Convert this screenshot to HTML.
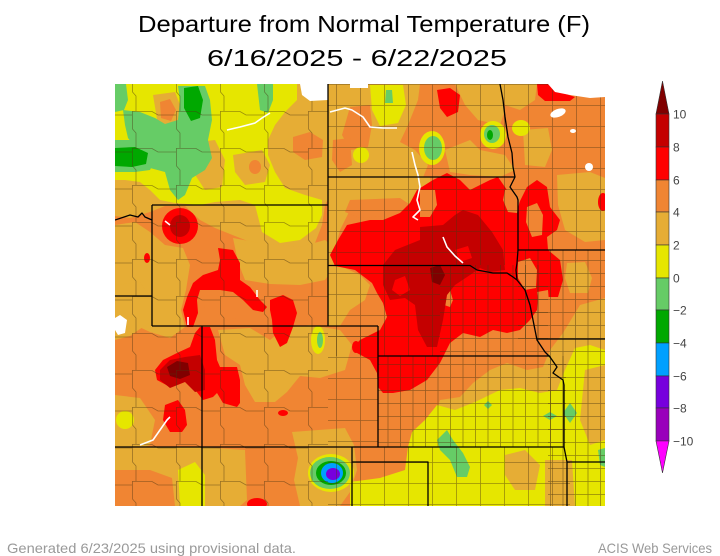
<!DOCTYPE html>
<html><head><meta charset="utf-8"><style>
html,body{margin:0;padding:0;background:#fff;}
svg{display:block;}
</style></head><body>
<svg width="720" height="556" viewBox="0 0 720 556" xmlns="http://www.w3.org/2000/svg">
<defs>
<clipPath id="mc"><rect x="115" y="84" width="490" height="422"/></clipPath>
<pattern id="p1" width="12.5" height="13" patternUnits="userSpaceOnUse"><path d="M0 0.5H12.5M0.5 0V13" stroke="#4a3410" stroke-opacity="0.55" stroke-width="0.8" fill="none"/></pattern>
<pattern id="p2" width="24" height="21" patternUnits="userSpaceOnUse"><path d="M0 0.5H24M0.5 0V21" stroke="#4a3410" stroke-opacity="0.5" stroke-width="0.8" fill="none"/></pattern>
<pattern id="p3" width="44" height="37" patternUnits="userSpaceOnUse"><path d="M0 0.5H20L26 4H44M0.5 0V18L4 22V37" stroke="#4a3410" stroke-opacity="0.5" stroke-width="0.8" fill="none"/></pattern>
</defs>

<!-- Title -->
<text x="364" y="32" font-family="DejaVu Sans ExtraLight, Liberation Sans, sans-serif" font-size="23" text-anchor="middle" textLength="452" lengthAdjust="spacingAndGlyphs" fill="#000">Departure from Normal Temperature (F)</text>
<text x="357" y="66" font-family="DejaVu Sans ExtraLight, Liberation Sans, sans-serif" font-size="23" text-anchor="middle" textLength="300" lengthAdjust="spacingAndGlyphs" fill="#000">6/16/2025 - 6/22/2025</text>

<g clip-path="url(#mc)">
<rect x="115" y="84" width="490" height="422" fill="#f08533"/>

<!-- gold (<4) -->
<g fill="#e6ad35">
<polygon points="115,84 420,84 418,100 408,125 400,142 415,150 428,165 420,185 405,205 380,208 352,210 340,200 332,192 325,205 322,225 315,243 295,250 270,247 250,242 235,236 215,228 200,220 185,206 165,206 150,212 130,218 115,216"/>
<polygon points="455,84 500,84 505,110 500,125 478,120 465,105"/>
<polygon points="445,150 470,140 480,150 505,155 515,170 500,177 470,175 450,172"/>
<polygon points="115,225 135,222 150,232 165,245 183,248 190,265 186,290 181,310 185,327 170,338 150,332 135,325 115,318"/>
<polygon points="233,238 260,243 300,247 325,240 335,248 338,262 325,280 300,285 270,284 245,280 238,262"/>
<polygon points="218,330 250,328 270,340 285,328 310,325 340,330 352,345 345,370 320,378 300,376 287,392 275,402 255,402 245,385 240,365 225,355"/>
<polygon points="115,285 140,282 152,300 150,322 130,336 115,340"/>
<polygon points="115,395 140,398 155,420 150,445 130,452 115,452"/>
<polygon points="115,447 200,447 245,450 247,500 240,506 175,506 172,478 150,470 115,470"/>
<polygon points="292,432 345,428 354,445 357,470 350,492 340,506 300,506 294,480 298,458"/>
<polygon points="350,480 390,486 410,470 412,447 413,430 433,423 440,400 460,397 473,383 490,370 507,363 527,370 543,367 550,350 563,333 580,305 605,298 605,506 350,506"/>
<polygon points="523,130 548,128 552,150 545,167 525,165"/>
<polygon points="557,175 590,172 605,178 605,240 585,242 565,230 558,205"/>
<polygon points="500,84 537,84 535,100 520,110 505,105"/>
<polygon points="567,263 585,262 592,278 588,293 570,293 565,278"/>
<polygon points="328,177 430,177 432,195 420,205 405,208 380,208 350,210 340,230 335,250 328,260"/>
<polygon points="328,265 345,268 360,275 370,285 365,300 350,310 340,326 328,326"/>
</g>

<!-- orange patches -->
<g fill="#f08533">
<polygon points="350,107 370,105 372,125 368,147 350,150 342,135"/>
<polygon points="293,137 310,132 323,140 322,157 305,160 293,152"/>
<polygon points="333,140 350,138 352,165 340,172 332,160"/>
<polygon points="350,200 400,198 415,208 400,215 360,218 345,212"/>
</g>

<!-- yellow (<2) -->
<g fill="#e6e600">
<polygon points="115,84 297,84 297,100 285,112 275,125 268,140 268,155 275,172 285,188 305,195 322,200 322,215 316,228 300,240 280,243 262,232 255,205 240,200 215,202 200,205 175,203 160,200 150,190 140,182 125,180 115,180"/>
<polygon points="370,85 403,85 406,105 398,123 380,126 372,110"/>
<ellipse cx="432" cy="148" rx="13" ry="17"/>
<ellipse cx="493" cy="135" rx="13" ry="14"/>
<ellipse cx="521" cy="128" rx="9" ry="8"/>
<ellipse cx="361" cy="155" rx="8" ry="8"/>
<ellipse cx="318" cy="340" rx="7" ry="14"/>
<ellipse cx="125" cy="420" rx="9" ry="9"/>
<polygon points="350,482 380,478 405,470 408,447 412,432 425,420 437,405 455,410 475,402 500,390 520,388 540,393 557,390 565,370 575,348 590,345 605,350 605,506 350,506"/>
<polygon points="178,470 195,462 205,475 205,506 180,506"/>
<ellipse cx="331" cy="473" rx="23" ry="19"/>
</g>

<!-- gold patches over yellow -->
<g fill="#e6ad35">
<polygon points="190,143 215,140 225,160 222,187 205,190 192,170"/>
<polygon points="233,155 262,150 270,165 265,182 245,185 235,172"/>
<polygon points="153,95 175,92 182,110 176,128 158,125"/>
<polygon points="505,455 525,450 540,465 535,490 515,490 505,475"/>
<polygon points="585,370 605,365 605,440 590,445 580,420"/>
<polygon points="545,460 572,460 575,506 545,506"/>
</g>
<g fill="#f08533">
<polygon points="160,102 170,99 176,110 171,121 161,118"/>
<ellipse cx="255" cy="167" rx="6" ry="7"/>
</g>

<!-- light green -->
<g fill="#66cc66">
<polygon points="115,84 126,84 128,100 124,110 115,112"/>
<polygon points="123,110 140,112 155,118 165,124 178,120 180,100 178,86 205,86 210,100 212,120 208,140 212,158 205,170 192,178 185,195 178,200 170,190 165,172 150,168 145,152 135,147 128,138 125,125"/>
<polygon points="115,140 135,140 150,147 155,160 150,170 135,172 115,172"/>
<polygon points="257,84 273,84 273,100 268,113 260,110"/>
<polygon points="386,90 392,90 393,103 385,103"/>
<ellipse cx="433" cy="148" rx="9" ry="12"/>
<ellipse cx="492" cy="134" rx="8" ry="9"/>
<ellipse cx="320" cy="340" rx="3" ry="8"/>
<polygon points="437,440 447,430 453,440 463,453 470,467 467,477 457,477 450,460 440,450"/>
<polygon points="484,405 488,401 492,405 488,409"/>
<polygon points="543,416 550,412 557,416 550,420"/>
<polygon points="570,403 577,413 570,423 563,413"/>
<polygon points="598,450 605,448 605,467 600,465"/>
<ellipse cx="330" cy="473" rx="20" ry="16"/>
</g>
<g fill="#00a800">
<polygon points="115,148 135,147 148,153 146,164 132,167 115,166"/>
<polygon points="184,88 198,86 203,100 200,118 191,121 184,108"/>
<ellipse cx="490" cy="135" rx="3" ry="5"/>
<ellipse cx="331" cy="473" rx="15" ry="12"/>
</g>
<ellipse cx="332" cy="473" rx="11" ry="10" fill="#00a0ff"/>
<ellipse cx="333" cy="474" rx="7" ry="6" fill="#7700dd"/>

<!-- red (>6) -->
<g fill="#ff0000">
<polygon points="347,225 370,220 383,220 400,213 410,203 417,190 433,180 447,173 460,180 470,190 490,180 498,177 507,190 510,203 517,207 527,187 537,180 547,187 550,207 560,220 557,230 547,237 548,250 560,260 563,280 558,297 538,297 537,310 530,320 520,330 507,333 493,330 480,337 463,333 450,343 440,363 427,380 410,390 393,393 383,393 378,387 377,373 370,360 357,353 353,347 360,340 380,330 387,317 383,303 377,293 372,283 355,270 335,266 330,255 338,240"/>
<ellipse cx="180" cy="226" rx="18" ry="18"/>
<polygon points="218,248 233,250 240,263 240,280 250,287 260,300 267,307 263,312 253,310 243,300 233,292 220,290 200,290 197,300 198,313 193,327 187,327 183,310 187,297 193,283 203,275 218,270 220,260"/>
<polygon points="270,300 283,295 293,300 297,313 293,327 287,343 280,347 273,333 272,320 270,310"/>
<polygon points="200,327 210,327 215,340 217,360 220,367 237,367 240,380 240,403 237,407 223,403 217,393 213,397 203,400 193,387 183,380 170,387 157,380 155,370 163,360 177,353 190,347 195,333"/>
<polygon points="165,405 178,400 185,410 187,425 182,432 170,432 163,420"/>
<ellipse cx="283" cy="413" rx="5" ry="3"/>
<ellipse cx="257" cy="504" rx="10" ry="6"/>
<ellipse cx="147" cy="258" rx="3" ry="5"/>
<ellipse cx="603" cy="202" rx="5" ry="9"/>
<polygon points="437,90 450,88 460,95 458,112 447,117 440,108"/>
<polygon points="537,84 548,84 560,92 575,97 570,101 545,101 538,95"/>
<ellipse cx="356" cy="347" rx="4" ry="6"/>
</g>
<!-- orange patches in red -->
<g fill="#f08533">
<polygon points="505,190 515,188 520,200 517,213 508,212 503,200"/>
<polygon points="527,207 537,203 543,215 542,235 532,237 526,222"/>
<polygon points="518,262 530,258 537,270 536,288 525,290 518,278"/>
<polygon points="443,292 450,290 453,300 450,307 444,305"/>
<polygon points="420,190 435,190 437,205 430,217 420,217"/>
<polygon points="537,292 548,290 550,313 540,313"/>
<polygon points="205,300 235,297 245,306 237,318 215,322 204,312"/>
</g>
<!-- dark red (>8) -->
<g fill="#c40000">
<polygon points="383,265 395,250 420,240 420,227 443,225 455,215 463,210 478,215 492,232 503,250 505,270 490,272 480,268 470,275 455,285 447,295 443,320 437,347 427,347 418,330 415,305 405,298 390,300 383,285"/>
<ellipse cx="180" cy="226" rx="10" ry="11"/>
<polygon points="160,370 170,360 185,357 200,355 205,370 205,390 195,392 185,382 170,388 160,380"/>
</g>
<!-- red breaks inside dark red -->
<g fill="#ff0000">
<polygon points="487,214 500,222 506,238 498,240 490,228"/>
<polygon points="395,280 405,276 410,290 400,296 392,290"/>
<polygon points="455,250 468,246 472,258 460,262"/>
</g>
<g fill="#800000">
<polygon points="430,268 440,265 445,275 440,285 432,282"/>
<polygon points="167,367 177,361 188,363 190,375 180,379 170,376"/>
</g>

<!-- county line textures -->
<rect x="115" y="84" width="213" height="422" fill="url(#p3)"/>
<rect x="328" y="84" width="190" height="181" fill="url(#p2)"/>
<rect x="518" y="84" width="87" height="166" fill="url(#p2)"/>
<rect x="328" y="265" width="112" height="91" fill="url(#p2)"/>
<rect x="328" y="326" width="50" height="180" fill="url(#p2)"/>
<rect x="378" y="447" width="192" height="59" fill="url(#p2)"/>
<rect x="440" y="265" width="108" height="91" fill="url(#p1)"/>
<rect x="378" y="356" width="188" height="91" fill="url(#p1)"/>
<rect x="518" y="250" width="87" height="89" fill="url(#p1)"/>
<rect x="548" y="339" width="57" height="167" fill="url(#p1)"/>

<!-- white (no data / lakes) -->
<g fill="#fff">
<polygon points="300,84 328,84 328,100 310,101 302,95"/>
<rect x="350" y="84" width="18" height="4"/>
<polygon points="548,84 605,84 605,97 590,98 570,95 555,92"/>
<ellipse cx="558" cy="113" rx="8" ry="4" transform="rotate(-20 558 113)"/>
<ellipse cx="573" cy="131" rx="3" ry="2"/>
<ellipse cx="589" cy="167" rx="4" ry="4"/>
<polygon points="115,318 120,315 127,320 125,333 118,335 115,330"/>
</g>
<g fill="none" stroke="#fff" stroke-width="1.6" stroke-linejoin="round">
<polyline points="227,130 240,127 255,123 262,118 270,113"/>
<polyline points="330,112 345,108 352,110 363,117 370,127 383,128 397,128"/>
<polyline points="412,152 415,165 418,175 420,187 417,200 420,210 413,217 418,220"/>
<polyline points="443,237 447,247 455,256 463,263"/>
<polyline points="140,445 153,440 160,430 167,420 170,417"/>
<polyline points="165,221 170,225"/>
<polyline points="188,317 188,325"/>
<polyline points="257,290 257,297"/>
</g>

<!-- state borders -->
<g fill="none" stroke="#000" stroke-width="1.3" stroke-linejoin="round">
<path d="M328,84 V326"/>
<path d="M152,205 H328"/>
<path d="M152,205 V326"/>
<path d="M152,220 L145,217 L142,213 L138,217 L130,215 L115,220"/>
<path d="M115,296 H152"/>
<path d="M152,326 H378"/>
<path d="M202,326 V506"/>
<path d="M115,447 H564"/>
<path d="M378,326 V447"/>
<path d="M378,356 H550"/>
<path d="M328,177 H515"/>
<path d="M328,265.5 H470 L477,270 L493,273 L507,273 L513,277 L517,280"/>
<path d="M500,84 L503,100 L505,117 L508,137 L512,153 L513,167 L515,177 L510,187 L517,197 L518,200 L518,250 L517,263 L516,270 L517,280 L525,290 L530,305 L533,320 L537,340 L545,352 L550,357 L557,367 L553,373 L563,380 L564,385 V447"/>
<path d="M518,250 H605"/>
<path d="M537,339 H605"/>
<path d="M352,447 V506"/>
<path d="M352,462 H428 V506"/>
<path d="M564,447 L567,462 V506"/>
<path d="M567,462 H605"/>
</g>
</g>

<!-- colorbar -->
<g stroke="#333" stroke-width="0.6">
<polygon points="662.5,81 669,114 656,114" fill="#800000"/>
<rect x="656" y="114" width="13" height="33" fill="#c40000"/>
<rect x="656" y="147" width="13" height="33" fill="#ff0000"/>
<rect x="656" y="180" width="13" height="32" fill="#f08533"/>
<rect x="656" y="212" width="13" height="33" fill="#e6ad35"/>
<rect x="656" y="245" width="13" height="33" fill="#e6e600"/>
<rect x="656" y="278" width="13" height="32" fill="#66cc66"/>
<rect x="656" y="310" width="13" height="33" fill="#00a800"/>
<rect x="656" y="343" width="13" height="33" fill="#00a0ff"/>
<rect x="656" y="376" width="13" height="32" fill="#7700dd"/>
<rect x="656" y="408" width="13" height="33" fill="#9900bb"/>
<polygon points="656,441 669,441 662.5,473" fill="#ff00ff"/>
</g>
<g font-family="Liberation Sans, sans-serif" font-size="12" fill="#444">
<text x="673" y="118.5">10</text>
<text x="673" y="151.5">8</text>
<text x="673" y="184.5">6</text>
<text x="673" y="216.5">4</text>
<text x="673" y="249.5">2</text>
<text x="673" y="282.5">0</text>
<text x="673" y="314.5">−2</text>
<text x="673" y="347.5">−4</text>
<text x="673" y="380.5">−6</text>
<text x="673" y="412.5">−8</text>
<text x="673" y="445.5">−10</text>
</g>

<!-- footer -->
<text x="7" y="553" font-family="Liberation Sans, sans-serif" font-size="14" fill="#999" textLength="289" lengthAdjust="spacingAndGlyphs">Generated 6/23/2025 using provisional data.</text>
<text x="712" y="553" font-family="Liberation Sans, sans-serif" font-size="14" fill="#999" text-anchor="end" textLength="114" lengthAdjust="spacingAndGlyphs">ACIS Web Services</text>
</svg>
</body></html>
